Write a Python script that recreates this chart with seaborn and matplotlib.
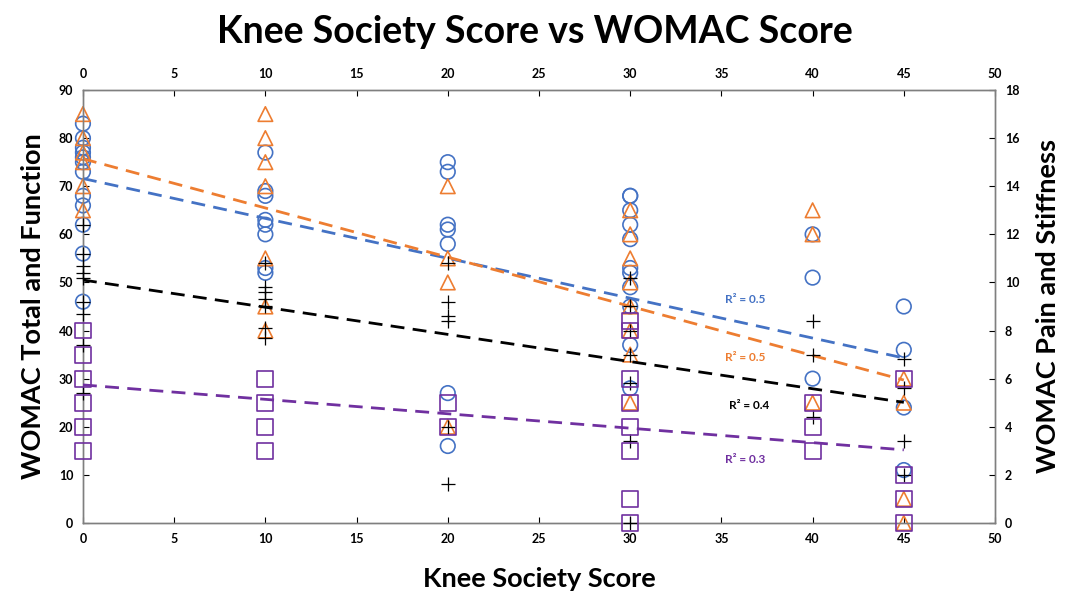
import numpy as np
import pandas as pd
import matplotlib
matplotlib.use("Agg")
import matplotlib.pyplot as plt
import seaborn as sns

# knee society score groups
ks_levels = [0, 10, 20, 30, 40, 45]

# left axis: WOMAC total (blue circles) and function (orange triangles)
total_by_ks = [
    [83, 80, 78, 77, 76, 75, 73, 68, 66, 62, 56, 46],
    [77, 69, 68, 63, 62, 60, 53, 52],
    [75, 73, 62, 61, 58, 27, 16],
    [68, 68, 65, 62, 59, 53, 52, 49, 45, 37, 28],
    [60, 51, 30],
    [45, 36, 24, 11],
]
function_by_ks = [
    [85, 80, 77, 75, 70, 65],
    [85, 80, 75, 70, 55, 45, 40],
    [70, 55, 50, 20],
    [65, 60, 55, 50, 45, 40, 35, 25],
    [65, 60, 25],
    [30, 25, 5, 0],
]
# right axis: WOMAC pain (black plus) and stiffness (purple squares)
pain_by_ks = [
    [12.4, 11.2, 10.7, 10.4, 10.2, 9.2, 8.7, 7.4, 5.4],
    [10.8, 9.8, 9.6, 9.3, 9.0, 8.1, 7.7],
    [10.8, 9.2, 8.6, 8.4, 4, 1.6],
    [10.2, 9, 8, 7, 5.8, 3.4, 0],
    [8.4, 7, 4.4],
    [6.8, 5.6, 3.4, 2],
]
stiffness_by_ks = [
    [8, 7, 6, 5, 4, 3],
    [6, 5, 4, 3],
    [5, 4],
    [8.4, 8, 6, 5, 4, 3, 1, 0],
    [5, 4, 3],
    [6, 2, 1, 0],
]

# excel linear trendlines (intercept, slope) and R^2
trend_total = (71.6, -0.829)
trend_function = (75.7, -1.022)
trend_pain = (10.1, -0.113)
trend_stiffness = (5.74, -0.060)
r2_total, r2_function, r2_pain, r2_stiffness = 0.5, 0.5, 0.4, 0.3

BLUE, ORANGE, BLACK, PURPLE = "#4472C4", "#ED7D31", "#000000", "#7030A0"


def to_frame(groups):
    rows = [(k, v) for k, vals in zip(ks_levels, groups) for v in vals]
    return pd.DataFrame(rows, columns=["ks", "score"])


sns.set_style("white")
plt.rcParams["font.family"] = ["Lato", "DejaVu Sans"]
plt.rcParams["text.color"] = "black"
plt.rcParams["axes.labelcolor"] = "black"
plt.rcParams["xtick.color"] = "black"
plt.rcParams["ytick.color"] = "black"

fig = plt.figure(figsize=(10.69, 5.91), dpi=100)
ax = fig.add_axes([0.0776, 0.1151, 0.8532, 0.7326])
ax2 = ax.twinx()

sns.scatterplot(data=to_frame(total_by_ks), x="ks", y="score", ax=ax, marker="o",
                s=110, facecolor="none", edgecolor=BLUE, linewidth=1.2, zorder=3,
                clip_on=False)
sns.scatterplot(data=to_frame(function_by_ks), x="ks", y="score", ax=ax, marker="^",
                s=110, facecolor="none", edgecolor=ORANGE, linewidth=1.2, zorder=3,
                clip_on=False)
sns.scatterplot(data=to_frame(pain_by_ks), x="ks", y="score", ax=ax2, marker="+",
                s=110, color=BLACK, linewidth=0.9, zorder=3, clip_on=False)
sns.scatterplot(data=to_frame(stiffness_by_ks), x="ks", y="score", ax=ax2, marker="s",
                s=130, facecolor="none", edgecolor=PURPLE, linewidth=1.2, zorder=3,
                clip_on=False)

xs = np.array([0, 45])
for a, (b0, b1), c in [(ax, trend_total, BLUE), (ax, trend_function, ORANGE),
                       (ax2, trend_pain, BLACK), (ax2, trend_stiffness, PURPLE)]:
    a.plot(xs, b0 + b1 * xs, ls=(0, (5, 3)), lw=2, color=c, zorder=4)

lab = dict(fontsize=8.5, fontweight="bold", ha="left", va="center")
ax.text(35.2, 46.5, f"R² = {r2_total}", color=BLUE, **lab)
ax.text(35.2, 34.3, f"R² = {r2_function}", color=ORANGE, **lab)
ax.text(35.4, 24.5, f"R² = {r2_pain}", color=BLACK, **lab)
ax.text(35.2, 13.2, f"R² = {r2_stiffness}", color=PURPLE, **lab)

ax.set_xlim(0, 50)
ax.set_ylim(0, 90)
ax2.set_ylim(0, 18)
ax.set_xticks(range(0, 51, 5))
ax.set_yticks(range(0, 91, 10))
ax2.set_yticks(range(0, 19, 2))

tick_kw = dict(direction="in", length=4, width=0.8, labelsize=9, pad=7)
ax.tick_params(axis="x", top=True, labeltop=True, bottom=True, **tick_kw)
ax.tick_params(axis="y", left=True, **tick_kw)
ax2.tick_params(axis="y", right=True, **tick_kw)
for a in (ax, ax2):
    for t in a.get_xticklabels() + a.get_yticklabels():
        t.set_fontweight("bold")
    for sp in a.spines.values():
        sp.set_color("#7f7f7f")
        sp.set_linewidth(1)

ax.set_xlabel("Knee Society Score", fontsize=19.5, fontweight="bold", labelpad=16)
ax.set_ylabel("WOMAC Total and Function", fontsize=19.5, fontweight="bold", labelpad=10)
ax2.set_ylabel("WOMAC Pain and Stiffness", fontsize=19.5, fontweight="bold", labelpad=12)
fig.suptitle("Knee Society Score vs WOMAC Score", fontsize=27, fontweight="bold", y=0.975)

fig.savefig("out.png", dpi=100)
